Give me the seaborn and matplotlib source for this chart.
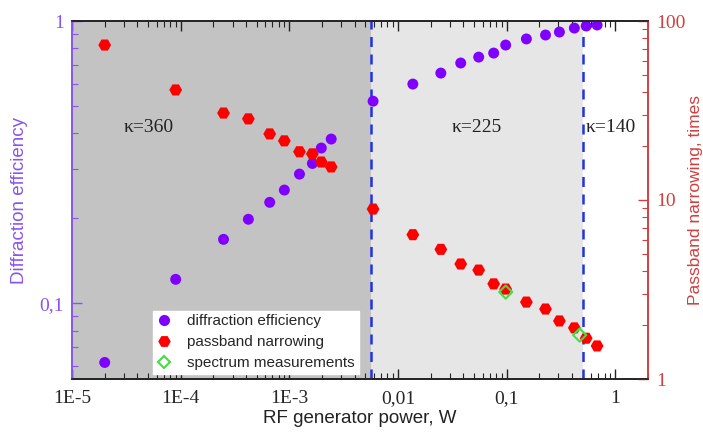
import numpy as np
import pandas as pd
import matplotlib
matplotlib.use("Agg")
import matplotlib.pyplot as plt
from matplotlib.ticker import FixedLocator, LogLocator, NullFormatter, FixedFormatter
from matplotlib.lines import Line2D
import seaborn as sns

# ---- data ----
power_eff = [2.0e-5, 9.0e-5, 2.48e-4, 4.2e-4, 6.6e-4, 9.0e-4, 1.24e-3, 1.63e-3, 1.97e-3, 2.43e-3,
             5.9e-3, 0.0137, 0.0248, 0.0378, 0.0553, 0.076, 0.098, 0.152, 0.228, 0.306, 0.42, 0.54, 0.68]
diff_eff = [0.0618, 0.1217, 0.1686, 0.1986, 0.228, 0.252, 0.287, 0.313, 0.355, 0.382,
            0.52, 0.598, 0.654, 0.710, 0.745, 0.770, 0.822, 0.864, 0.892, 0.914, 0.944, 0.960, 0.968]
power_pass = power_eff
passband = [73.4, 41.2, 30.6, 28.4, 23.4, 21.4, 18.6, 18.1, 16.3, 15.3,
            8.9, 6.4, 5.3, 4.39, 4.06, 3.40, 3.18, 2.69, 2.46, 2.11, 1.93, 1.69, 1.53]
power_spec = [0.098, 0.47]
spec_meas = [3.06, 1.76]
region_bounds = [1e-5, 0.0056, 0.5, 2.0]
region_labels = ["\u03ba=360", "\u03ba=225", "\u03ba=140"]
region_label_x = [5.1e-5, 0.053, 0.9]
x_ticks = [1e-5, 1e-4, 1e-3, 1e-2, 1e-1, 1]
x_ticklabels = ["1E-5", "1E-4", "1E-3", "0,01", "0,1", "1"]

PURPLE = "#8000ff"
RED = "#ff0000"
AXRED = "#d04040"
AXPURPLE = "#8855ee"
GREEN = "#44dd44"
SERIF = "Liberation Serif"
SANS = "Liberation Sans"

sns.set_style("white")
plt.rcParams["font.family"] = [SANS, "DejaVu Sans"]

df_eff = pd.DataFrame({"power": power_eff, "eff": diff_eff})
df_pass = pd.DataFrame({"power": power_pass, "pass": passband})
df_spec = pd.DataFrame({"power": power_spec, "pass": spec_meas})

fig = plt.figure(figsize=(7.03, 4.37), dpi=100)
ax = fig.add_axes([72/703, 1-379/437, (648-72)/703, (379-21)/437])

# background regions
ax.axvspan(region_bounds[0], region_bounds[1], color="#c3c3c3", zorder=0, lw=0)
ax.axvspan(region_bounds[1], region_bounds[2], color="#e6e6e6", zorder=0, lw=0)
for b in region_bounds[1:3]:
    ax.axvline(b, color="#2233dd", ls=(0, (4, 3)), lw=1.8, zorder=1)

sns.scatterplot(data=df_eff, x="power", y="eff", ax=ax, color=PURPLE, s=62,
                edgecolor="none", zorder=3, legend=False)
ax.set_xscale("log")
ax.set_yscale("log")
ax.set_xlim(1e-5, 2.0)
ax.set_ylim(0.054, 1.0)

ax2 = ax.twinx()
sns.scatterplot(data=df_pass, x="power", y="pass", ax=ax2, color=RED, s=85, marker="H",
                edgecolor="none", zorder=3, legend=False)
sns.scatterplot(data=df_spec, x="power", y="pass", ax=ax2, color="none", s=45, marker="D",
                edgecolor=GREEN, linewidth=1.5, zorder=4, legend=False)
ax2.set_yscale("log")
ax2.set_ylim(1, 100)
ax2.set_xlim(1e-5, 2.0)

# x axis ticks
ax.xaxis.set_major_locator(FixedLocator(x_ticks))
ax.xaxis.set_major_formatter(FixedFormatter(x_ticklabels))
ax.xaxis.set_minor_locator(LogLocator(base=10, subs=np.arange(2, 10)))
ax.xaxis.set_minor_formatter(NullFormatter())
ax.tick_params(axis="x", which="both", direction="in", top=True, bottom=True, color="#222222")
ax.tick_params(axis="x", which="major", length=7, width=1, labelsize=14, pad=8)
ax.tick_params(axis="x", which="minor", length=4, width=0.8)

# left y
ax.yaxis.set_major_locator(FixedLocator([0.1, 1]))
ax.yaxis.set_major_formatter(FixedFormatter(["0,1", "1"]))
ax.yaxis.set_minor_locator(LogLocator(base=10, subs=np.arange(2, 10)))
ax.yaxis.set_minor_formatter(NullFormatter())
ax.tick_params(axis="y", which="both", direction="in", left=True, right=False, color=AXPURPLE,
               labelcolor=AXPURPLE)
ax.tick_params(axis="y", which="major", length=7, width=1, labelsize=14, pad=6)
ax.tick_params(axis="y", which="minor", length=4, width=0.8)

# right y
ax2.yaxis.set_major_locator(FixedLocator([1, 10, 100]))
ax2.yaxis.set_major_formatter(FixedFormatter(["1", "10", "100"]))
ax2.yaxis.set_minor_locator(LogLocator(base=10, subs=np.arange(2, 10)))
ax2.yaxis.set_minor_formatter(NullFormatter())
ax2.tick_params(axis="y", which="both", direction="in", right=True, left=False, color=AXRED,
                labelcolor=AXRED)
ax2.tick_params(axis="y", which="major", length=7, width=1, labelsize=14, pad=6)
ax2.tick_params(axis="y", which="minor", length=4, width=0.8)

for lab in ax.get_xticklabels() + ax.get_yticklabels() + ax2.get_yticklabels():
    lab.set_fontfamily(SERIF)

for a in (ax, ax2):
    for sp in a.spines.values():
        sp.set_linewidth(1.2)
        sp.set_color("#222222")
ax2.spines["left"].set_color(AXPURPLE)
ax.spines["left"].set_color(AXPURPLE)
ax2.spines["right"].set_color(AXRED)
ax.spines["right"].set_color(AXRED)

ax.set_xlabel("RF generator power, W", fontsize=13.5, labelpad=2, color="#222222")
ax.set_ylabel("Diffraction efficiency", fontsize=13.5, color=AXPURPLE, labelpad=8)
ax2.set_ylabel("Passband narrowing, times", fontsize=12.5, color=AXRED, labelpad=2)

# region labels
for c, t in zip(region_label_x, region_labels):
    ax.text(c, 0.42, t, fontsize=14, family=SERIF, ha="center", va="center", color="#222222", zorder=5)

handles = [
    Line2D([], [], ls="none", marker="o", markersize=8, color=PURPLE, markeredgecolor="none"),
    Line2D([], [], ls="none", marker="H", markersize=9, color=RED, markeredgecolor="none"),
    Line2D([], [], ls="none", marker="D", markersize=6, markerfacecolor="none",
           markeredgecolor=GREEN, markeredgewidth=1.5),
]
leg = ax2.legend(handles, ["diffraction efficiency", "passband narrowing", "spectrum measurements"],
                 loc="lower left", fontsize=11, frameon=True, fancybox=False, framealpha=1,
                 edgecolor="white", handlelength=1.0, handletextpad=1.0, borderpad=0.25,
                 labelspacing=0.45, borderaxespad=0)
leg.set_bbox_to_anchor((153/703, 1-374/437), transform=fig.transFigure)
leg.set_zorder(10)

fig.savefig("out.png", dpi=100)
